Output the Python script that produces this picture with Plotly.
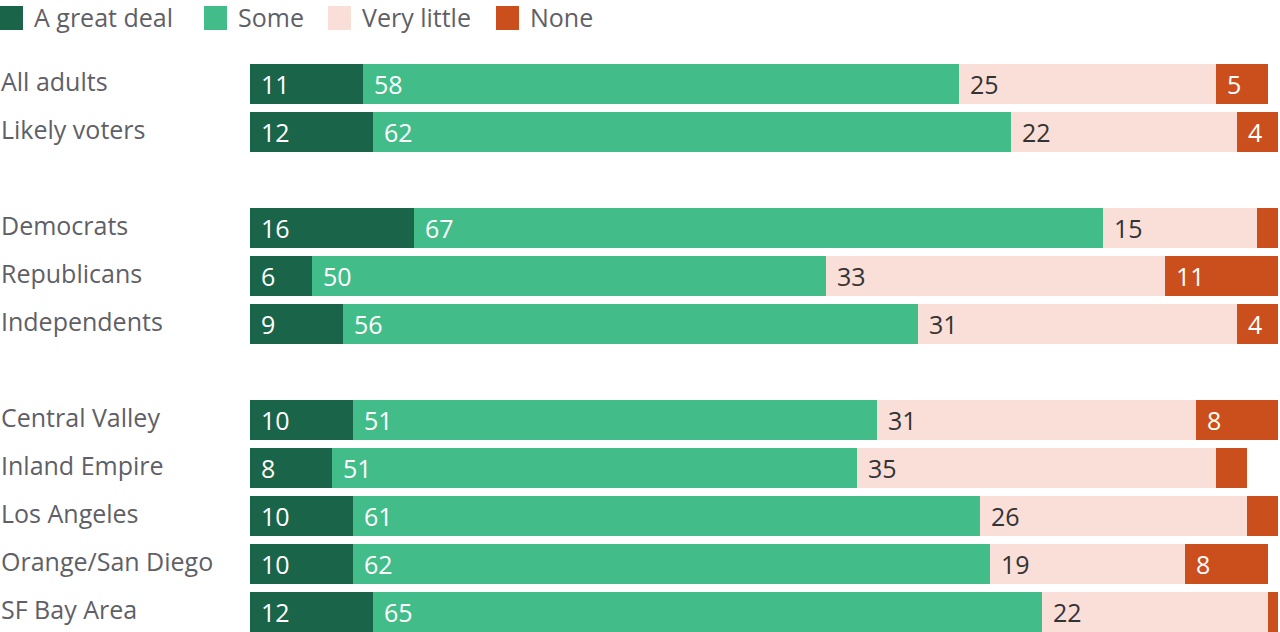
import plotly.graph_objects as go

categories = ["All adults", "Likely voters", "Democrats", "Republicans", "Independents",
              "Central Valley", "Inland Empire", "Los Angeles", "Orange/San Diego", "SF Bay Area"]
row_pos = [0, 1, 3, 4, 5, 7, 8, 9, 10, 11]

series_names = ["A great deal", "Some", "Very little", "None"]
great_deal = [11, 12, 16, 6, 9, 10, 8, 10, 10, 12]
some = [58, 62, 67, 50, 56, 51, 51, 61, 62, 65]
very_little = [25, 22, 15, 33, 31, 31, 35, 26, 19, 22]
none = [5, 4, 2, 11, 4, 8, 3, 3, 8, 1]

colors = ["#1a6449", "#42bd8a", "#fadfd8", "#cb4f1c"]
text_colors = ["#ffffff", "#ffffff", "#333333", "#ffffff"]
FONT = "Open Sans"
FS = 25
W = 400

fig = go.Figure()
series = [great_deal, some, very_little, none]
for name, vals, col in zip(series_names, series, colors):
    fig.add_trace(go.Bar(
        y=row_pos, x=vals, orientation="h", name=name,
        marker=dict(color=col, line=dict(width=0)),
        width=40/48, showlegend=False, hoverinfo="x+name"))

# value labels
for i, r in enumerate(row_pos):
    start = 0
    for s, vals in enumerate(series):
        v = vals[i]
        if v >= 4:
            fig.add_annotation(x=start, y=r, xref="x", yref="y", text=str(v),
                               showarrow=False, xanchor="left", yanchor="middle",
                               xshift=9, font=dict(family=FONT, size=FS, weight=W,
                                                   color=text_colors[s]))
        start += v

# category labels
for c, r in zip(categories, row_pos):
    fig.add_annotation(x=-251/1028, y=r, xref="paper", yref="y", text=c,
                       showarrow=False, xanchor="left", yanchor="middle", yshift=3,
                       font=dict(family=FONT, size=FS, weight=W, color="#5f6066"))

# legend (custom)
leg_x = [0, 204, 328, 496]
for name, col, lx in zip(series_names, colors, leg_x):
    fig.add_shape(type="rect", xref="paper", yref="paper",
                  x0=(lx - 250)/1028, x1=(lx + 23 - 250)/1028,
                  y0=(632 - 6 - 0)/572, y1=(632 - 30)/572,
                  fillcolor=col, line=dict(width=0))
    fig.add_annotation(x=(lx + 32 - 250)/1028, y=(632 - 17)/572, xref="paper", yref="paper",
                       text=name, showarrow=False, xanchor="left", yanchor="middle",
                       font=dict(family=FONT, size=FS, weight=W, color="#5f6066"))

fig.update_layout(
    barmode="stack", width=1280, height=632,
    margin=dict(l=250, r=2, t=60, b=0),
    paper_bgcolor="white", plot_bgcolor="white",
    xaxis=dict(range=[0, 100], visible=False, fixedrange=True),
    yaxis=dict(range=[11 + 0.5 - 4/48, -0.5], visible=False, fixedrange=True),
    bargap=0,
)
fig.write_html("out.html")
